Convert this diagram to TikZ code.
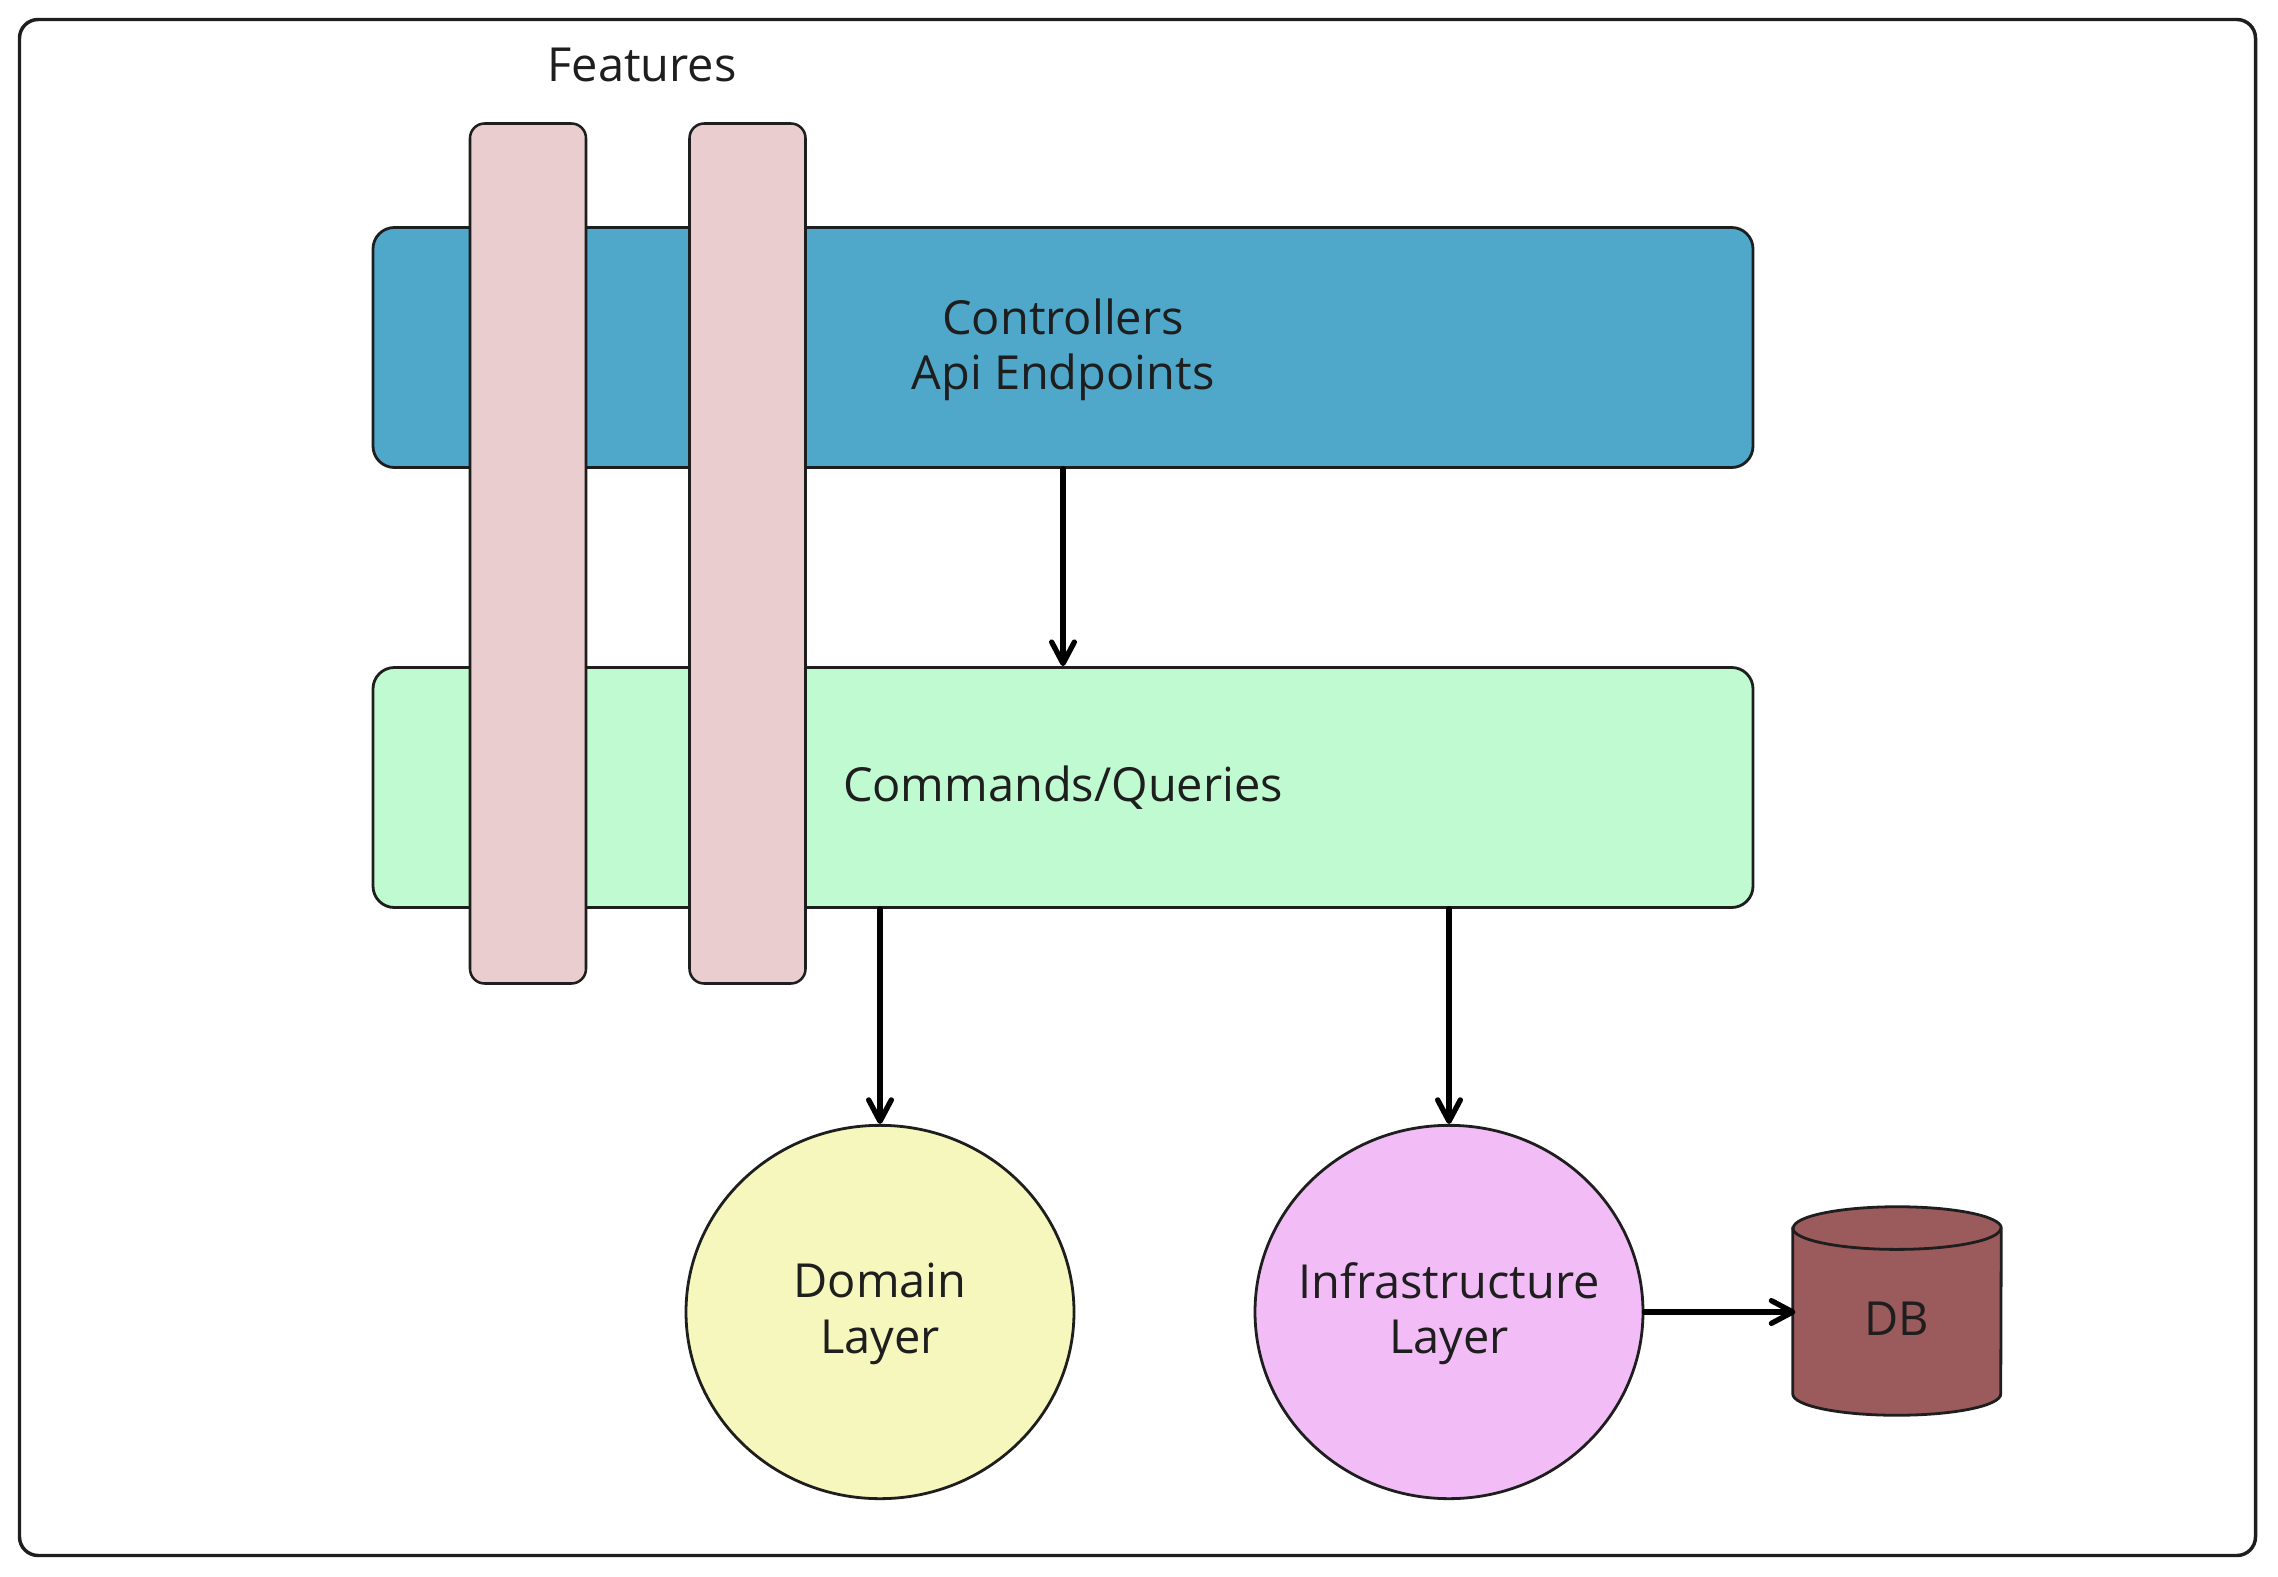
\documentclass[tikz,border=0pt]{standalone}
\usepackage{fontspec}
\setmainfont{Open Sans}
\usetikzlibrary{arrows.meta,shapes.geometric}
\definecolor{ink}{HTML}{1E1E1E}
\definecolor{cblue}{HTML}{4FA8CA}
\definecolor{cpink}{HTML}{E9CDCF}
\definecolor{cgreen}{HTML}{BFFAD0}
\definecolor{cyellow}{HTML}{F6F7BD}
\definecolor{cmag}{HTML}{F2BDF6}
\definecolor{cbrown}{HTML}{9B5A5C}
\newcommand{\labelfont}{\fontsize{35.2}{41.5}\selectfont}
\tikzset{
  px/.style={x=0.75pt,y=-0.75pt},
  lay/.style={draw=ink,line width=2.1pt,rounded corners=16pt,minimum width=1035pt,minimum height=180pt,inner sep=0pt},
  feat/.style={draw=ink,line width=1.9pt,fill=cpink,rounded corners=11pt,minimum width=87pt,minimum height=645pt,inner sep=0pt},
  circ/.style={ellipse,draw=ink,line width=2.1pt,minimum width=291pt,minimum height=280pt,inner sep=0pt},
  link/.style={draw=black,line width=4pt,line cap=round,-{Straight Barb[length=16pt,width=17pt,line width=4pt,round]}},
  lbl/.style={text=ink,inner sep=0pt,align=center,font=\labelfont},
  dbline/.style={draw=ink,line width=2.1pt}
}
\begin{document}
\begin{tikzpicture}[px]
\useasboundingbox (0,0) rectangle (2278,1577);
\node[draw=ink,line width=2.6pt,rounded corners=14pt,minimum width=1677pt,minimum height=1152pt,inner sep=0pt] (frame) at (1137.5,787.5) {};
\node[lay,fill=cblue] (ctrl) at (1063,347.5) {};
\node[lbl] (ctrlt) at (1063,349.5) {Controllers\\Api Endpoints};
\node[lay,fill=cgreen] (cmd) at (1063,787.5) {};
\node[lbl] (cmdt) at (1063,788) {Commands/Queries};
\node[feat] (f1) at (528,553.5) {};
\node[feat] (f2) at (747.5,553.5) {};
\node[lbl] (ftitle) at (642,65) {Features};
\node[circ,fill=cyellow] (dom) at (880,1312) {};
\node[lbl] (domt) at (880,1314) {Domain\\Layer};
\node[circ,fill=cmag] (inf) at (1449,1312) {};
\node[lbl] (inft) at (1449,1314) {Infrastructure\\Layer};
\node[minimum width=156pt,minimum height=156pt,inner sep=0pt] (db) at (1897,1311) {};
\filldraw[dbline,fill=cbrown] ([yshift=-16pt]db.north west) -- ([yshift=16pt]db.south west)
  arc[start angle=180,end angle=360,x radius=78pt,y radius=16pt]
  -- ([yshift=-16pt]db.north east)
  arc[start angle=0,end angle=180,x radius=78pt,y radius=16pt] -- cycle;
\draw[dbline] ([yshift=-16pt]db.north west) arc[start angle=180,end angle=360,x radius=78pt,y radius=16pt];
\node[lbl] (dbt) at (1897,1319) {DB};
\draw[link] (ctrl.south) -- (cmd.north);
\draw[link] (cmd.south -| dom.north) -- (dom.north);
\draw[link] (cmd.south -| inf.north) -- (inf.north);
\draw[link] (inf.east) -- ([xshift=2pt]db.west |- inf.east);
\end{tikzpicture}
\end{document}
